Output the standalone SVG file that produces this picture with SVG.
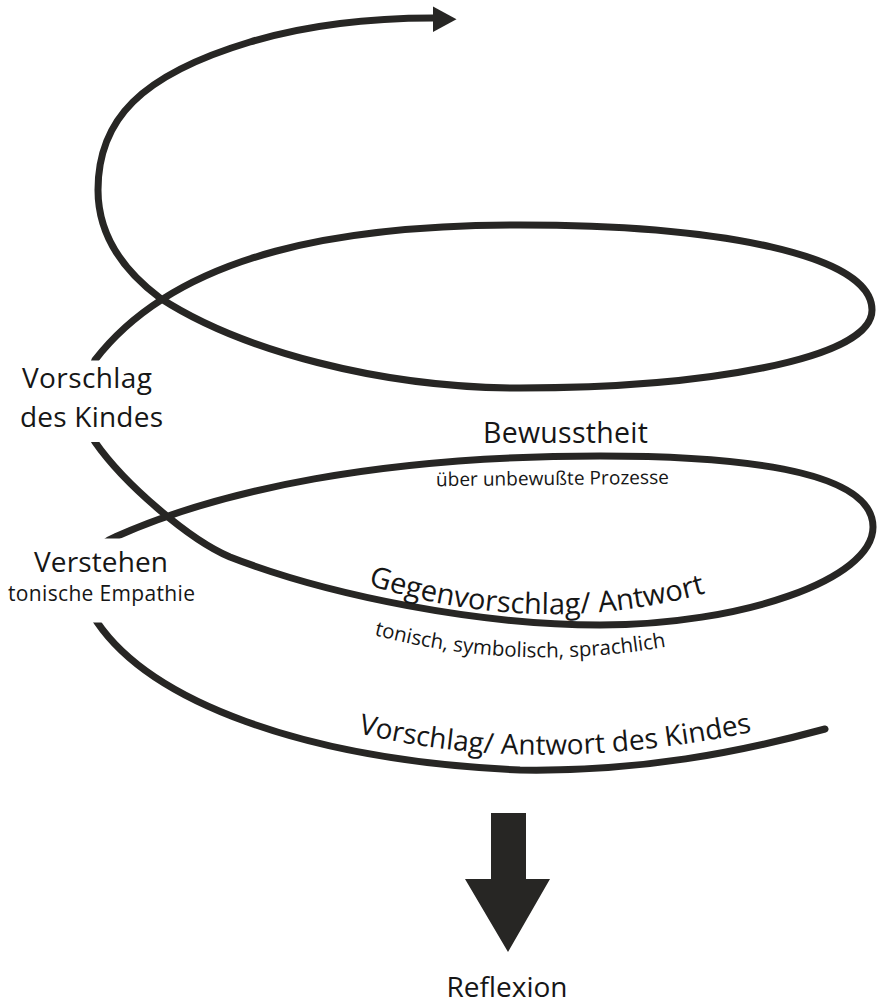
<svg xmlns="http://www.w3.org/2000/svg" width="879" height="1004" viewBox="0 0 879 1004">
  <style>
    .lbl { font-family: "Open Sans", "Noto Sans", "Liberation Sans", sans-serif; fill: #161616; }
    .spiral { fill: none; stroke: #272624; stroke-width: 7; stroke-linecap: round; }
    .solid { fill: #272624; }
  </style>
  <defs>
    <mask id="gaps" maskUnits="userSpaceOnUse" x="0" y="0" width="879" height="1004">
      <rect x="0" y="0" width="879" height="1004" fill="#fff"/>
      <rect x="30" y="360.5" width="130" height="81.5" fill="#000"/>
      <rect x="30" y="538.5" width="130" height="84" fill="#000"/>
    </mask>
    <path id="pGegen" d="M368,585 Q540,639 706,593"/>
    <path id="pTonisch" d="M374,635 Q520,674 676,645"/>
    <path id="pKind" d="M358,733 Q540,778 760,730"/>
  </defs>

  <g id="connectors">
    <path id="spiral" class="spiral" mask="url(#gaps)" d="M825,729 C740,752 640,772 520,770 C300,760 150,700 97,622 C81,599 82,550 115,537 C220,490 380,456 600,456 C730,456 873,468 873,527 C873,580 740,625 600,625 C480,625 330,596 230,557 C190,540 125,485 95,442 C81,422 85,383 95,360 C180,250 350,225 520,225 C720,225 872,255 872,310 C872,360 700,388 520,388 C380,388 240,350 160,298 C120,268 98,232 98,190 C98,120 140,75 250,42 C317,22 380,18 433,18"/>
    <polygon id="spiral-head" class="solid" points="433,6.5 456.5,19.3 433,32"/>
  </g>

  <g id="node-vorschlag-des-kindes">
    <text class="lbl" x="22" y="388" font-size="28" textLength="130">Vorschlag</text>
    <text class="lbl" x="20" y="427" font-size="28" textLength="143">des Kindes</text>
  </g>

  <g id="node-verstehen">
    <text class="lbl" x="34" y="572" font-size="28" textLength="134">Verstehen</text>
    <text class="lbl" x="8" y="601" font-size="21" textLength="187">tonische Empathie</text>
  </g>

  <g id="node-bewusstheit">
    <text class="lbl" x="483" y="443" font-size="28.5" textLength="165">Bewusstheit</text>
    <text class="lbl" x="436" y="485" font-size="19" textLength="233" transform="rotate(-0.6 552 485)">über unbewußte Prozesse</text>
  </g>

  <g id="node-gegenvorschlag">
    <text class="lbl" font-size="29"><textPath href="#pGegen">Gegenvorschlag/ Antwort</textPath></text>
    <text class="lbl" font-size="20.5"><textPath href="#pTonisch">tonisch, symbolisch, sprachlich</textPath></text>
  </g>

  <g id="node-vorschlag-antwort">
    <text class="lbl" font-size="28"><textPath href="#pKind">Vorschlag/ Antwort des Kindes</textPath></text>
  </g>

  <g id="node-reflexion">
    <polygon class="solid" points="491,813 526,813 526,879 550,879 508,952 465,879 491,879"/>
    <text class="lbl" x="507" y="997" font-size="28" text-anchor="middle">Reflexion</text>
  </g>
</svg>
